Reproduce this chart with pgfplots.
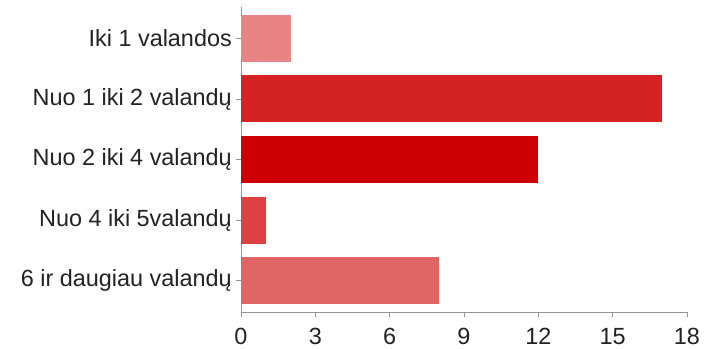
\documentclass[border=0pt]{standalone}
\usepackage{fontspec}
\setmainfont{Liberation Sans}
\usepackage{pgfplots}
\pgfplotsset{compat=1.18}

\definecolor{barA}{RGB}{232,132,132}
\definecolor{barB}{RGB}{213,34,34}
\definecolor{barC}{RGB}{204,0,0}
\definecolor{barD}{RGB}{220,64,64}
\definecolor{barE}{RGB}{224,100,100}
\definecolor{axisgray}{RGB}{150,150,150}
\definecolor{labeltext}{RGB}{34,34,34}

\begin{document}
\begin{tikzpicture}
\path[use as bounding box] (-241bp,-37bp) rectangle (465bp,312bp);
\begin{axis}[
  at={(0,0)}, anchor=south west,
  scale only axis,
  width=446bp, height=305bp,
  xbar, bar width=47bp, bar shift=0pt,
  xmin=0, xmax=18,
  ymin=-0.52, ymax=4.52,
  y dir=reverse,
  axis x line=bottom, axis y line=left,
  axis line style={-, axisgray, line width=0.8pt},
  tick style={axisgray, line width=0.8pt},
  tick align=outside,
  major tick length=5bp,
  xtick={0,3,6,9,12,15,18},
  ytick={0,1,2,3,4},
  yticklabels={Iki 1 valandos, Nuo 1 iki 2 valandų, Nuo 2 iki 4 valandų, Nuo 4 iki 5valandų, 6 ir daugiau valandų},
  /pgf/number format/assume math mode=true,
  ticklabel style={font=\fontsize{23.5}{27}\selectfont, text=labeltext, inner sep=0pt},
  yticklabel style={anchor=east, xshift=-4bp},
  xticklabel style={anchor=north, yshift=-11bp},
  every axis plot/.append style={draw=none},
]
\addplot[fill=barA] coordinates {(2,0)};
\addplot[fill=barB] coordinates {(17,1)};
\addplot[fill=barC] coordinates {(12,2)};
\addplot[fill=barD] coordinates {(1,3)};
\addplot[fill=barE] coordinates {(8,4)};
\end{axis}
\end{tikzpicture}
\end{document}
